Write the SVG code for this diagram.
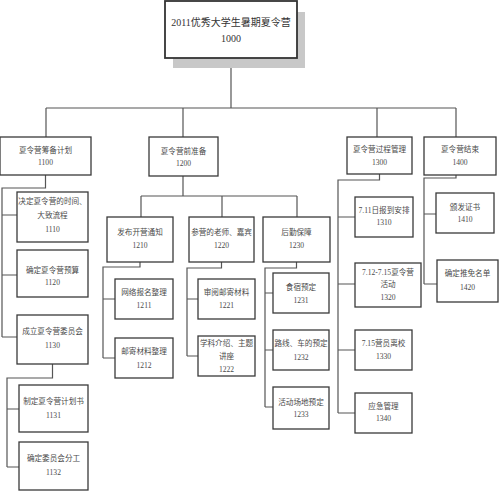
<svg xmlns="http://www.w3.org/2000/svg" width="500" height="491" viewBox="0 0 500 491">
<style>
.b{fill:#fff;stroke:#3a3a3a;stroke-width:1.3}
.t{font-family:"Liberation Serif","Noto Sans CJK SC",serif;font-size:7.6px;fill:#4a4a4a;text-anchor:middle}
.tt{font-family:"Liberation Serif","Noto Sans CJK SC",serif;font-size:10px;fill:#333;text-anchor:middle}
.c{fill:none;stroke:#555;stroke-width:1.2}
</style>
<rect width="500" height="491" fill="#fff"/>
<g id="connectors" class="c">
<path d="M231,58V108M46,108H456M46,108V137M183,108V137M377,108V137M456,108V137"/>
<path d="M45.5,175V188H2V337M2,215H17M2,275H17M2,337H17"/>
<path d="M52.5,364V378H7V467M7,409H19M7,467H19"/>
<path d="M183,176V196M141,196H297M141,196V217M222,196V217M297,196V217"/>
<path d="M140,262V267H103V358M103,299H115M103,358H115"/>
<path d="M221.5,262V268H187V356M187,299H198M187,356H198"/>
<path d="M296.5,262V268H265V407M265,293H273M265,350H273M265,407H273"/>
<path d="M379.5,174V180H338V413M338,217H355M338,284H355M338,350H355M338,413H355"/>
<path d="M456,175V178H424V284M424,214H436M424,284H437"/>
</g>
<g id="n1000">
<rect x="173" y="12" width="132" height="56" fill="#c8c8c8"/>
<rect x="165" y="1" width="132" height="57" fill="#fff" stroke="#333" stroke-width="1.8"/>
<text class="tt" x="231" y="26">2011优秀大学生暑期夏令营</text>
<text class="tt" x="231" y="42">1000</text>
</g>
<g id="n1100"><rect class="b" x="0" y="137" width="91" height="38"/><text class="t" x="45.5" y="153">夏令营筹备计划</text><text class="t" x="45.5" y="165">1100</text></g>
<g id="n1110"><rect class="b" x="17" y="192" width="71" height="50"/><text class="t" x="52.5" y="204">决定夏令营的时间、</text><text class="t" x="52.5" y="218">大致流程</text><text class="t" x="52.5" y="232">1110</text></g>
<g id="n1120"><rect class="b" x="17" y="250" width="71" height="47"/><text class="t" x="52.5" y="273">确定夏令营预算</text><text class="t" x="52.5" y="285">1120</text></g>
<g id="n1130"><rect class="b" x="17" y="315" width="71" height="49"/><text class="t" x="52.5" y="334">成立夏令营委员会</text><text class="t" x="52.5" y="348">1130</text></g>
<g id="n1131"><rect class="b" x="19" y="385" width="69" height="47"/><text class="t" x="53.5" y="404">制定夏令营计划书</text><text class="t" x="53.5" y="418">1131</text></g>
<g id="n1132"><rect class="b" x="19" y="442" width="69" height="48"/><text class="t" x="53.5" y="461">确定委员会分工</text><text class="t" x="53.5" y="475">1132</text></g>
<g id="n1200"><rect class="b" x="149" y="137" width="69" height="39"/><text class="t" x="183.5" y="154">夏令营前准备</text><text class="t" x="183.5" y="166">1200</text></g>
<g id="n1210"><rect class="b" x="107" y="217" width="66" height="45"/><text class="t" x="140" y="235">发布开营通知</text><text class="t" x="140" y="248">1210</text></g>
<g id="n1211"><rect class="b" x="115" y="279" width="58" height="40"/><text class="t" x="144" y="295">网络报名整理</text><text class="t" x="144" y="308">1211</text></g>
<g id="n1212"><rect class="b" x="115" y="338" width="58" height="40"/><text class="t" x="144" y="354">邮寄材料整理</text><text class="t" x="144" y="368">1212</text></g>
<g id="n1220"><rect class="b" x="189" y="217" width="65" height="45"/><text class="t" x="221.5" y="235">参营的老师、嘉宾</text><text class="t" x="221.5" y="248">1220</text></g>
<g id="n1221"><rect class="b" x="198" y="279" width="57" height="40"/><text class="t" x="226.5" y="295">审阅邮寄材料</text><text class="t" x="226.5" y="308">1221</text></g>
<g id="n1222"><rect class="b" x="198" y="336" width="57" height="40"/><text class="t" x="226.5" y="346">学科介绍、主题</text><text class="t" x="226.5" y="359">讲座</text><text class="t" x="226.5" y="372">1222</text></g>
<g id="n1230"><rect class="b" x="263" y="217" width="67" height="45"/><text class="t" x="296.5" y="235">后勤保障</text><text class="t" x="296.5" y="248">1230</text></g>
<g id="n1231"><rect class="b" x="273" y="273" width="56" height="40"/><text class="t" x="301" y="290">食宿预定</text><text class="t" x="301" y="303">1231</text></g>
<g id="n1232"><rect class="b" x="273" y="330" width="56" height="40"/><text class="t" x="301" y="346">路线、车的预定</text><text class="t" x="301" y="360">1232</text></g>
<g id="n1233"><rect class="b" x="273" y="387" width="56" height="42"/><text class="t" x="301" y="405">活动场地预定</text><text class="t" x="301" y="417">1233</text></g>
<g id="n1300"><rect class="b" x="347" y="137" width="65" height="37"/><text class="t" x="379.5" y="152">夏令营过程管理</text><text class="t" x="379.5" y="165">1300</text></g>
<g id="n1310"><rect class="b" x="355" y="197" width="58" height="40"/><text class="t" x="384" y="213">7.11日报到安排</text><text class="t" x="384" y="225">1310</text></g>
<g id="n1320"><rect class="b" x="355" y="263" width="66" height="44" stroke-width="1.6"/><text class="t" x="388" y="275">7.12-7.15夏令营</text><text class="t" x="388" y="287">活动</text><text class="t" x="388" y="300">1320</text></g>
<g id="n1330"><rect class="b" x="355" y="330" width="57" height="40"/><text class="t" x="383.5" y="346">7.15营员离校</text><text class="t" x="383.5" y="359">1330</text></g>
<g id="n1340"><rect class="b" x="355" y="393" width="57" height="40"/><text class="t" x="383.5" y="409">应急管理</text><text class="t" x="383.5" y="421">1340</text></g>
<g id="n1400"><rect class="b" x="424" y="137" width="72" height="38"/><text class="t" x="460" y="152">夏令营结束</text><text class="t" x="460" y="165">1400</text></g>
<g id="n1410"><rect class="b" x="436" y="193" width="58" height="40"/><text class="t" x="465" y="210">颁发证书</text><text class="t" x="465" y="222">1410</text></g>
<g id="n1420"><rect class="b" x="437" y="260" width="61" height="42"/><text class="t" x="467.5" y="276">确定推免名单</text><text class="t" x="467.5" y="290">1420</text></g>
</svg>
